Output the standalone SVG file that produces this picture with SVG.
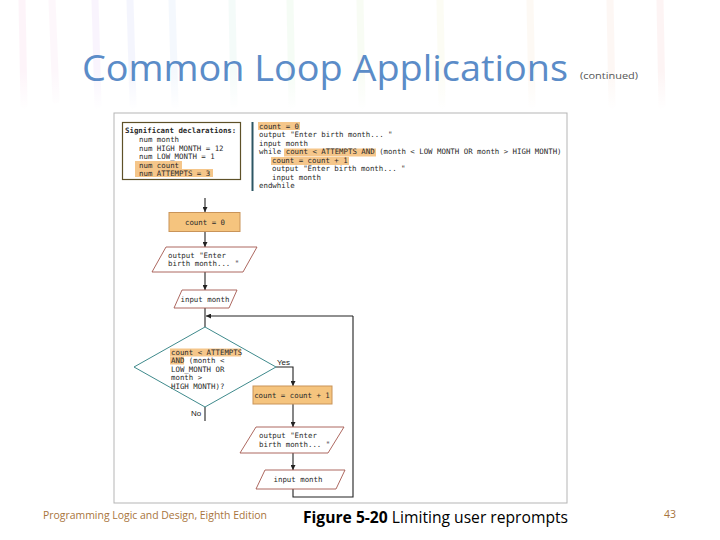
<svg xmlns="http://www.w3.org/2000/svg" width="720" height="540" viewBox="0 0 720 540">
<style>
.code{font-family:"DejaVu Sans Mono","Liberation Mono",monospace;font-size:7.4px;fill:#2a2a2a}
.bold{font-weight:bold}
.hl{fill:#f5c68a}
.proc{fill:#f5c47e;stroke:#c99459;stroke-width:1}
.io{fill:#fff;stroke:#a4574e;stroke-width:0.9}
.dec{fill:#fff;stroke:#3f8a8c;stroke-width:1}
.ln{fill:none;stroke:#222;stroke-width:1.1}
.streak{stroke-width:7;stroke-linecap:round;opacity:0.08}
</style>
<defs>
<marker id="ah" viewBox="0 0 6 6" refX="6" refY="3" markerWidth="5" markerHeight="5" orient="auto" markerUnits="userSpaceOnUse">
<path d="M0,0 L6,3 L0,6 z" fill="#222"/>
</marker>
<linearGradient id="fade" x1="0" y1="0" x2="0" y2="1">
<stop offset="0" stop-color="#fff" stop-opacity="0"/>
<stop offset="1" stop-color="#fff" stop-opacity="1"/>
</linearGradient>
</defs>
<rect width="720" height="540" fill="#fff"/>
<g id="background">
<line class="streak" x1="22" y1="0" x2="24" y2="105" stroke="#f080c0"/>
<line class="streak" x1="52" y1="0" x2="56" y2="100" stroke="#f0a0d0"/>
<line class="streak" x1="95" y1="0" x2="98" y2="105" stroke="#c080f0"/>
<line class="streak" x1="130" y1="0" x2="133" y2="105" stroke="#8090f0"/>
<line class="streak" x1="172" y1="0" x2="175" y2="105" stroke="#80b0f0"/>
<line class="streak" x1="232" y1="0" x2="234" y2="105" stroke="#80d0c0"/>
<line class="streak" x1="290" y1="0" x2="292" y2="105" stroke="#90e090"/>
<line class="streak" x1="360" y1="0" x2="362" y2="105" stroke="#b0e080"/>
<line class="streak" x1="440" y1="0" x2="442" y2="105" stroke="#e0e080"/>
<line class="streak" x1="530" y1="0" x2="532" y2="105" stroke="#f0c080"/>
<line class="streak" x1="610" y1="0" x2="612" y2="105" stroke="#f0a080"/>
<line class="streak" x1="660" y1="0" x2="662" y2="105" stroke="#f08080"/>
<rect x="0" y="70" width="720" height="40" fill="url(#fade)"/>
</g>
<g id="title">
<text x="82" y="81" font-family="'Open Sans','Liberation Sans',sans-serif" font-size="37" fill="#5b8cc8" textLength="486" lengthAdjust="spacingAndGlyphs">Common Loop Applications</text>
<text x="580" y="79" font-family="'Open Sans','Liberation Sans',sans-serif" font-size="9.5" fill="#555" textLength="58" lengthAdjust="spacingAndGlyphs">(continued)</text>
</g>
<g id="frame">
<rect x="114" y="113" width="453" height="390" fill="#fff" stroke="#b5b5b5" stroke-width="1"/>
</g>
<g id="declarations">
<rect x="122.5" y="122.5" width="118" height="57" fill="#fff" stroke="#5e5128" stroke-width="1.2"/>
<rect class="hl" x="135" y="161" width="47" height="8"/>
<rect class="hl" x="135" y="169" width="78" height="8"/>
<text class="code bold" x="125" y="133">Significant declarations:</text>
<text class="code" x="139" y="142">num month</text>
<text class="code" x="139" y="150.5">num HIGH MONTH = 12</text>
<text class="code" x="139" y="159">num LOW_MONTH = 1</text>
<text class="code" x="139" y="167.5">num count</text>
<text class="code" x="139" y="176">num ATTEMPTS = 3</text>
</g>
<g id="pseudocode">
<line x1="252.5" y1="122" x2="252.5" y2="191" stroke="#2d5664" stroke-width="2"/>
<rect class="hl" x="258" y="122" width="42" height="8"/>
<rect class="hl" x="284" y="148.5" width="92" height="8"/>
<rect class="hl" x="271" y="157" width="78" height="8"/>
<text class="code" x="259" y="128.5">count = 0</text>
<text class="code" x="259" y="137">output "Enter birth month... "</text>
<text class="code" x="259" y="145.5">input month</text>
<text class="code" x="259" y="154">while count &lt; ATTEMPTS AND (month &lt; LOW MONTH OR month &gt; HIGH MONTH)</text>
<text class="code" x="272" y="162.5">count = count + 1</text>
<text class="code" x="272" y="171">output "Enter birth month... "</text>
<text class="code" x="272" y="179.5">input month</text>
<text class="code" x="259" y="188">endwhile</text>
</g>
<g id="connectors">
<line class="ln" x1="205" y1="198" x2="205" y2="212" marker-end="url(#ah)"/>
<line class="ln" x1="205" y1="231" x2="205" y2="247" marker-end="url(#ah)"/>
<line class="ln" x1="205" y1="272" x2="205" y2="290" marker-end="url(#ah)"/>
<line class="ln" x1="205" y1="308" x2="205" y2="327"/>
<polyline class="ln" points="353,316 206,316" marker-end="url(#ah)"/>
<line class="ln" x1="205" y1="407" x2="205" y2="421"/>
<polyline class="ln" points="276,367 293,367 293,386" marker-end="url(#ah)"/>
<line class="ln" x1="293" y1="404" x2="293" y2="427" marker-end="url(#ah)"/>
<line class="ln" x1="293" y1="453" x2="293" y2="470" marker-end="url(#ah)"/>
<polyline class="ln" points="293,489 293,497 353,497 353,316"/>
</g>
<g id="n_count0">
<rect class="proc" x="169" y="212.5" width="71" height="19"/>
<text class="code" x="205" y="224.5" text-anchor="middle">count = 0</text>
</g>
<g id="n_output1">
<polygon class="io" points="166,247 257,247 243,272 152,272"/>
<text class="code" x="168" y="258">output "Enter</text>
<text class="code" x="168" y="266">birth month... "</text>
</g>
<g id="n_input1">
<polygon class="io" points="182,290 237,290 229,308 174,308"/>
<text class="code" x="205" y="301.5" text-anchor="middle">input month</text>
</g>
<g id="n_decision">
<polygon class="dec" points="205,327 276,367 205,407 134,367"/>
<rect class="hl" x="170" y="348.5" width="71" height="8"/>
<rect class="hl" x="170" y="356.5" width="14" height="8"/>
<text class="code" x="171" y="354.5">count &lt; ATTEMPTS</text>
<text class="code" x="171" y="363">AND (month &lt;</text>
<text class="code" x="171" y="371.5">LOW_MONTH OR</text>
<text class="code" x="171" y="380">month &gt;</text>
<text class="code" x="171" y="388.5">HIGH MONTH)?</text>
<text x="277" y="365" font-family="'Liberation Sans',Arial,sans-serif" font-size="8" fill="#222">Yes</text>
<text x="191" y="416" font-family="'Liberation Sans',Arial,sans-serif" font-size="8" fill="#222">No</text>
</g>
<g id="n_increment">
<rect class="proc" x="253" y="386" width="79" height="18"/>
<text class="code" x="292" y="397.5" text-anchor="middle">count = count + 1</text>
</g>
<g id="n_output2">
<polygon class="io" points="256,427 344,427 328,453 240,453"/>
<text class="code" x="259" y="438">output "Enter</text>
<text class="code" x="259" y="447">birth month... "</text>
</g>
<g id="n_input2">
<polygon class="io" points="265,470 345,470 336,489 256,489"/>
<text class="code" x="298" y="482" text-anchor="middle">input month</text>
</g>
<g id="footer">
<text x="43" y="519" font-family="'Open Sans','Liberation Sans',sans-serif" font-size="10.5" fill="#a8743c" textLength="224" lengthAdjust="spacingAndGlyphs">Programming Logic and Design, Eighth Edition</text>
<text x="303" y="523" font-family="'Open Sans','Liberation Sans',sans-serif" font-size="15.5" fill="#000" textLength="265" lengthAdjust="spacingAndGlyphs"><tspan font-weight="bold">Figure 5-20</tspan> Limiting user reprompts</text>
<text x="664" y="518" font-family="'Open Sans','Liberation Sans',sans-serif" font-size="10.5" fill="#a8743c">43</text>
</g>
</svg>
